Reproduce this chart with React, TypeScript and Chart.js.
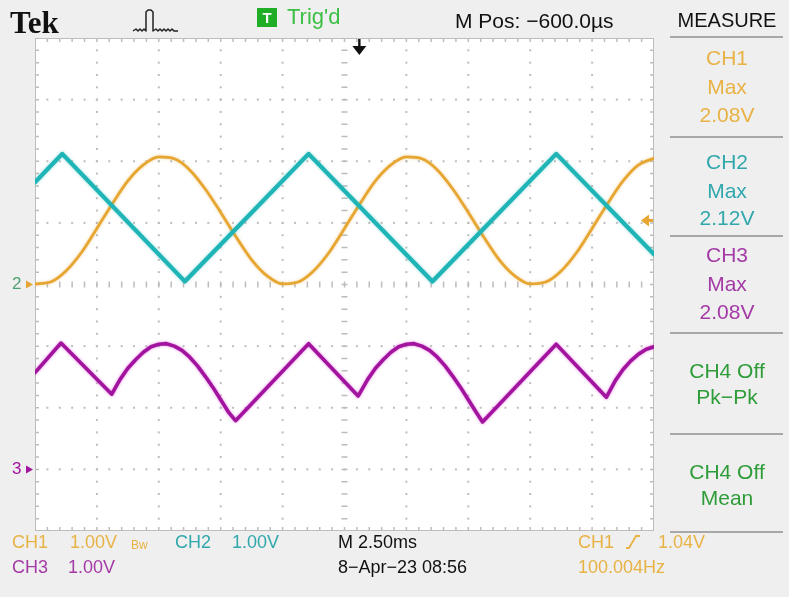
import React, { useEffect, useRef } from "react";
import { Chart, registerables } from "chart.js";

Chart.register(...registerables);

// ---- Data (time in divisions, amplitude in volts, 1 V/div) ----
const ch1Time = [0, 0.25, 0.5, 0.75, 1, 1.25, 1.5, 1.75, 2, 2.25, 2.5, 2.75, 3, 3.25, 3.5, 3.75,
  4, 4.25, 4.5, 4.75, 5, 5.25, 5.5, 5.75, 6, 6.25, 6.5, 6.75, 7, 7.25, 7.5, 7.75,
  8, 8.25, 8.5, 8.75, 9, 9.25, 9.5, 9.75, 10];
const ch1Volts = [0.01, 0.04, 0.22, 0.52, 0.91, 1.31, 1.68, 1.94, 2.07, 2.04, 1.86, 1.55, 1.17, 0.77, 0.40, 0.14,
  0.01, 0.04, 0.22, 0.52, 0.91, 1.31, 1.68, 1.94, 2.07, 2.04, 1.86, 1.55, 1.17, 0.77, 0.40, 0.14,
  0.01, 0.04, 0.22, 0.52, 0.91, 1.31, 1.68, 1.94, 2.05];

const ch2Time = [0, 0.44, 2.42, 4.42, 6.42, 8.42, 10];
const ch2Volts = [1.66, 2.12, 0.05, 2.12, 0.05, 2.12, 0.49];

const ch3Time = [0, 0.42, 1.24, 1.375, 1.5, 1.625, 1.75, 1.875, 2.0, 2.125, 2.25, 2.375, 2.5, 2.625, 2.75, 2.875, 3.0, 3.125, 3.24,
  4.42, 5.22, 5.375, 5.5, 5.625, 5.75, 5.875, 6.0, 6.125, 6.25, 6.375, 6.5, 6.625, 6.75, 6.875, 7.0, 7.125, 7.23,
  8.42, 9.23, 9.375, 9.5, 9.625, 9.75, 9.875, 10];
const ch3Volts = [1.57, 2.05, 1.22, 1.46, 1.64, 1.78, 1.90, 1.99, 2.03, 2.04, 2.00, 1.93, 1.82, 1.68, 1.51, 1.33, 1.13, 0.93, 0.79,
  2.04, 1.19, 1.46, 1.64, 1.78, 1.90, 1.99, 2.03, 2.04, 2.00, 1.93, 1.82, 1.68, 1.51, 1.33, 1.13, 0.93, 0.77,
  2.03, 1.17, 1.44, 1.62, 1.76, 1.87, 1.95, 1.99];

const triggerLevelVolts = 1.04;
const triggerPosDiv = 0.24; // -600 us at 2.5 ms/div

// ground reference levels (divisions from centre)
const CH1_GROUND = 0;
const CH2_GROUND = 0;
const CH3_GROUND = -3;

const ORANGE = "#e6a631";
const ORANGE_TXT = "#e8b245";
const CYAN = "#1fb4b6";
const CYAN_TXT = "#30a8ac";
const PURPLE = "#a2149e";
const PURPLE_TXT = "#a43aa6";
const GREEN_TXT = "#2e9c38";
const FONT = "'Liberation Sans', Arial, sans-serif";

function pts(t: number[], v: number[], ground: number) {
  return t.map((x, i) => ({ x, y: ground + v[i] }));
}

const graticule = {
  id: "graticule",
  beforeDatasetsDraw(chart: any) {
    const { ctx, chartArea: a } = chart;
    const xs = chart.scales.x;
    const ys = chart.scales.y;
    ctx.save();
    ctx.fillStyle = "#ffffff";
    ctx.fillRect(a.left, a.top, a.right - a.left, a.bottom - a.top);
    ctx.fillStyle = "#bdbdbd";
    // dotted division lines
    for (let i = 1; i < 10; i++) {
      if (i === 5) continue;
      const px = xs.getPixelForValue(i);
      for (let k = 1; k < 40; k++) {
        const py = ys.getPixelForValue(-4 + k * 0.2);
        ctx.fillRect(px - 1, py - 1, 2, 2);
      }
    }
    for (let j = -3; j <= 3; j++) {
      if (j === 0) continue;
      const py = ys.getPixelForValue(j);
      for (let k = 1; k < 50; k++) {
        const px = xs.getPixelForValue(k * 0.2);
        ctx.fillRect(px - 1, py - 1, 2, 2);
      }
    }
    // centre cross tick marks
    ctx.strokeStyle = "#bcbcbc";
    ctx.lineWidth = 1.5;
    const cy = ys.getPixelForValue(0);
    const cx = xs.getPixelForValue(5);
    ctx.beginPath();
    for (let k = 1; k < 50; k++) {
      const px = xs.getPixelForValue(k * 0.2);
      ctx.moveTo(px, cy - 3);
      ctx.lineTo(px, cy + 3);
    }
    for (let k = 1; k < 40; k++) {
      const py = ys.getPixelForValue(-4 + k * 0.2);
      ctx.moveTo(cx - 3, py);
      ctx.lineTo(cx + 3, py);
    }
    // edge rulers
    for (let k = 1; k < 50; k++) {
      const px = xs.getPixelForValue(k * 0.2);
      ctx.moveTo(px, a.top);
      ctx.lineTo(px, a.top + 4);
      ctx.moveTo(px, a.bottom);
      ctx.lineTo(px, a.bottom - 4);
    }
    for (let k = 1; k < 40; k++) {
      const py = ys.getPixelForValue(-4 + k * 0.2);
      ctx.moveTo(a.left, py);
      ctx.lineTo(a.left + 4, py);
      ctx.moveTo(a.right, py);
      ctx.lineTo(a.right - 4, py);
    }
    ctx.stroke();
    ctx.strokeStyle = "#bdbdbd";
    ctx.lineWidth = 1;
    ctx.strokeRect(a.left + 0.5, a.top + 0.5, a.right - a.left - 1, a.bottom - a.top - 1);
    ctx.restore();
  },
  afterDraw(chart: any) {
    const { ctx, chartArea: a } = chart;
    const xs = chart.scales.x;
    const ys = chart.scales.y;
    ctx.save();
    // channel ground markers
    const g2 = ys.getPixelForValue(CH2_GROUND);
    const g1 = ys.getPixelForValue(CH1_GROUND);
    const g3 = ys.getPixelForValue(CH3_GROUND);
    ctx.font = `17px ${FONT}`;
    ctx.textBaseline = "middle";
    ctx.fillStyle = "#4f9f74";
    ctx.fillText("2", 12, g2);
    ctx.fillStyle = ORANGE;
    ctx.beginPath();
    ctx.moveTo(26, g1 - 4);
    ctx.lineTo(33, g1);
    ctx.lineTo(26, g1 + 4);
    ctx.closePath();
    ctx.fill();
    ctx.fillStyle = PURPLE;
    ctx.fillText("3", 12, g3);
    ctx.beginPath();
    ctx.moveTo(26, g3 - 4);
    ctx.lineTo(33, g3);
    ctx.lineTo(26, g3 + 4);
    ctx.closePath();
    ctx.fill();
    // trigger level arrow (right)
    const tl = ys.getPixelForValue(CH1_GROUND + triggerLevelVolts);
    ctx.fillStyle = ORANGE;
    ctx.beginPath();
    ctx.moveTo(a.right - 13, tl);
    ctx.lineTo(a.right - 5, tl - 6);
    ctx.lineTo(a.right - 5, tl + 6);
    ctx.closePath();
    ctx.fill();
    ctx.fillRect(a.right - 6, tl - 1.5, 5, 3);
    // trigger position arrow (top)
    const tp = xs.getPixelForValue(5 + triggerPosDiv);
    ctx.fillStyle = "#111";
    ctx.fillRect(tp - 1.2, a.top + 1, 2.4, 8);
    ctx.beginPath();
    ctx.moveTo(tp - 7, a.top + 8);
    ctx.lineTo(tp + 7, a.top + 8);
    ctx.lineTo(tp, a.top + 17);
    ctx.closePath();
    ctx.fill();
    ctx.restore();
  },
  beforeDatasetDraw(chart: any, args: any) {
    const ds = chart.data.datasets[args.index];
    chart.ctx.save();
    chart.ctx.shadowColor = ds.glow;
    chart.ctx.shadowBlur = 3;
  },
  afterDatasetDraw(chart: any) {
    chart.ctx.restore();
  },
};

function Txt(props: { x: number; y: number; size: number; color: string; children: any; center?: boolean; weight?: any; family?: string }) {
  const { x, y, size, color, children, center, weight, family } = props;
  return (
    <div
      style={{
        position: "absolute",
        left: x,
        top: y - 0.49 * size,
        fontSize: size,
        lineHeight: 1,
        color,
        whiteSpace: "nowrap",
        fontFamily: family || FONT,
        fontWeight: weight || "normal",
        transform: center ? "translateX(-50%)" : undefined,
      }}
    >
      {children}
    </div>
  );
}

export default function App() {
  const ref = useRef<HTMLCanvasElement | null>(null);
  useEffect(() => {
    document.body.style.margin = "0";
    const chart = new Chart(ref.current as HTMLCanvasElement, {
      type: "line",
      data: {
        datasets: [
          { data: pts(ch2Time, ch2Volts, CH2_GROUND), borderColor: CYAN, borderWidth: 4.2, tension: 0, glow: "rgba(31,180,182,0.5)" } as any,
          { data: pts(ch1Time, ch1Volts, CH1_GROUND), borderColor: ORANGE, borderWidth: 2.8, cubicInterpolationMode: "monotone", glow: "rgba(230,166,49,0.5)" } as any,
          { data: pts(ch3Time, ch3Volts, CH3_GROUND), borderColor: PURPLE, borderWidth: 3.6, tension: 0, glow: "rgba(220,80,220,0.7)" } as any,
        ],
      },
      options: {
        animation: false,
        responsive: false,
        maintainAspectRatio: false,
        layout: { padding: { left: 35, top: 38, right: 135, bottom: 66 } },
        scales: {
          x: { type: "linear", min: 0, max: 10, display: false },
          y: { type: "linear", min: -4, max: 4, display: false },
        },
        elements: { point: { radius: 0 }, line: { borderJoinStyle: "round", borderCapStyle: "round" } },
        plugins: { legend: { display: false }, tooltip: { enabled: false } },
      },
      plugins: [graticule],
    });
    return () => chart.destroy();
  }, []);

  const sep = (y: number) => (
    <div style={{ position: "absolute", left: 670, top: y, width: 113, height: 2, background: "#a8a8a8" }} />
  );

  return (
    <div style={{ position: "fixed", left: 0, top: 0, width: 789, height: 597, background: "#efefef", overflow: "hidden" }}>
      <canvas ref={ref} width={789} height={597} style={{ position: "absolute", left: 0, top: 0, width: 789, height: 597 }} />
      <svg width={789} height={597} style={{ position: "absolute", left: 0, top: 0, pointerEvents: "none" }}>
        <polyline
          points="133,31 136,29 138,31 140,29 142,31 144,29 146,31 146,12 148,10 151,10 153,12 153,31 156,29 158,31 160,29 162,31 164,29 166,31 168,29 170,31 172,29 174,31 178,31"
          fill="none" stroke="#222" strokeWidth={1.5} strokeLinejoin="round"
        />
        <polyline points="626,548 629,548 636,536 640,536" fill="none" stroke={ORANGE_TXT} strokeWidth={1.8} />
      </svg>
      {/* header */}
      <Txt x={10} y={22} size={31} color="#111" weight="bold" family="'Liberation Serif', 'DejaVu Serif', serif">Tek</Txt>
      <div style={{ position: "absolute", left: 257, top: 8, width: 20, height: 19, background: "#1fae26", color: "#fff", fontFamily: FONT, fontWeight: "bold", fontSize: 15, lineHeight: "19px", textAlign: "center" }}>T</div>
      <Txt x={287} y={17} size={22} color="#3cbf45">Trig'd</Txt>
      <Txt x={455} y={20} size={21} color="#111">M Pos: −600.0µs</Txt>
      <Txt x={727} y={20} size={20} color="#111" center>MEASURE</Txt>
      {sep(36)}
      {/* measure panel */}
      <Txt x={727} y={57} size={21} color={ORANGE_TXT} center>CH1</Txt>
      <Txt x={727} y={86} size={21} color={ORANGE_TXT} center>Max</Txt>
      <Txt x={727} y={114} size={21} color={ORANGE_TXT} center>2.08V</Txt>
      {sep(136)}
      <Txt x={727} y={161} size={21} color={CYAN_TXT} center>CH2</Txt>
      <Txt x={727} y={190} size={21} color={CYAN_TXT} center>Max</Txt>
      <Txt x={727} y={217} size={21} color={CYAN_TXT} center>2.12V</Txt>
      {sep(235)}
      <Txt x={727} y={254} size={21} color={PURPLE_TXT} center>CH3</Txt>
      <Txt x={727} y={283} size={21} color={PURPLE_TXT} center>Max</Txt>
      <Txt x={727} y={311} size={21} color={PURPLE_TXT} center>2.08V</Txt>
      {sep(332)}
      <Txt x={727} y={370} size={21} color={GREEN_TXT} center>CH4 Off</Txt>
      <Txt x={727} y={396} size={21} color={GREEN_TXT} center>Pk−Pk</Txt>
      {sep(433)}
      <Txt x={727} y={471} size={21} color={GREEN_TXT} center>CH4 Off</Txt>
      <Txt x={727} y={497} size={21} color={GREEN_TXT} center>Mean</Txt>
      {sep(531)}
      {/* footer */}
      <Txt x={12} y={542} size={18} color={ORANGE_TXT}>CH1</Txt>
      <Txt x={70} y={542} size={18} color={ORANGE_TXT}>1.00V</Txt>
      <Txt x={131} y={545} size={12} color={ORANGE_TXT}>Bw</Txt>
      <Txt x={175} y={542} size={18} color={CYAN_TXT}>CH2</Txt>
      <Txt x={232} y={542} size={18} color={CYAN_TXT}>1.00V</Txt>
      <Txt x={12} y={567} size={18} color={PURPLE_TXT}>CH3</Txt>
      <Txt x={68} y={567} size={18} color={PURPLE_TXT}>1.00V</Txt>
      <Txt x={338} y={542} size={18} color="#111">M 2.50ms</Txt>
      <Txt x={338} y={567} size={18} color="#111">8−Apr−23 08:56</Txt>
      <Txt x={578} y={542} size={18} color={ORANGE_TXT}>CH1</Txt>
      <Txt x={658} y={542} size={18} color={ORANGE_TXT}>1.04V</Txt>
      <Txt x={578} y={567} size={18} color={ORANGE_TXT}>100.004Hz</Txt>
    </div>
  );
}
